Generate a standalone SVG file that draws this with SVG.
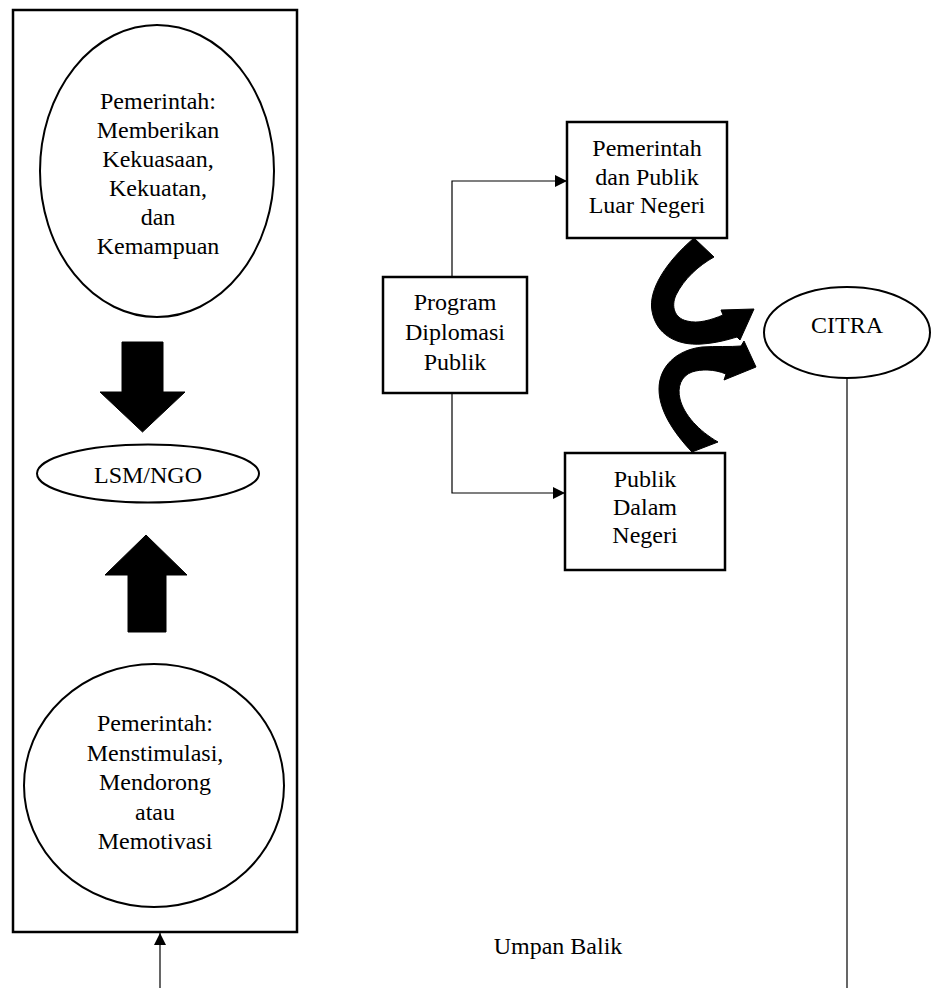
<svg xmlns="http://www.w3.org/2000/svg" width="933" height="988" viewBox="0 0 933 988">
<style>
text{font-family:"Liberation Serif","Times New Roman",serif;font-size:24px;fill:#000;text-anchor:middle}
.box{fill:#fff;stroke:#000;stroke-width:2.5}
.ell{fill:#fff;stroke:#000;stroke-width:2}
.ln{fill:none;stroke:#000;stroke-width:1.2}
.blk{fill:#000;stroke:#000;stroke-width:1}
</style>
<defs>
<marker id="ah" viewBox="0 0 12 12" refX="12" refY="6" markerWidth="12" markerHeight="12" markerUnits="userSpaceOnUse" orient="auto">
<path d="M0,0 L12,6 L0,12 Z" fill="#000"/>
</marker>
</defs>
<g id="outer-box"><rect class="box" x="13" y="10" width="284" height="922"/></g>
<g id="pemerintah-atas">
<ellipse class="ell" cx="157" cy="171" rx="117" ry="146"/>
<text x="158" y="109">Pemerintah:</text>
<text x="158" y="138">Memberikan</text>
<text x="158" y="167">Kekuasaan,</text>
<text x="158" y="196">Kekuatan,</text>
<text x="158" y="225">dan</text>
<text x="158" y="254">Kemampuan</text>
</g>
<g id="arrow-down"><path class="blk" d="M122,342 H163 V392 H185 L142.5,432 L100,392 H122 Z"/></g>
<g id="lsm"><ellipse class="ell" cx="148" cy="473.5" rx="111" ry="29"/><text x="148" y="483">LSM/NGO</text></g>
<g id="arrow-up"><path class="blk" d="M128,632 H166 V575 H187 L146,535 L105,575 H128 Z"/></g>
<g id="pemerintah-bawah">
<ellipse class="ell" cx="154" cy="785.5" rx="130" ry="121.5"/>
<text x="155" y="731">Pemerintah:</text>
<text x="155" y="760.5">Menstimulasi,</text>
<text x="155" y="790">Mendorong</text>
<text x="155" y="819.5">atau</text>
<text x="155" y="849">Memotivasi</text>
</g>
<g id="program"><rect class="box" x="383" y="277" width="144" height="116"/>
<text x="455" y="310">Program</text><text x="455" y="340">Diplomasi</text><text x="455" y="370">Publik</text></g>
<g id="luar-negeri"><rect class="box" x="567" y="122" width="160" height="116"/>
<text x="647" y="156">Pemerintah</text><text x="647" y="185">dan Publik</text><text x="647" y="213">Luar Negeri</text></g>
<g id="dalam-negeri"><rect class="box" x="565" y="453" width="160" height="117"/>
<text x="645" y="487">Publik</text><text x="645" y="515">Dalam</text><text x="645" y="543">Negeri</text></g>
<g id="citra"><ellipse class="ell" cx="847" cy="332.5" rx="83" ry="45.5"/><text x="847" y="333">CITRA</text></g>
<g id="umpan-balik"><text x="558" y="954">Umpan Balik</text></g>
<g id="connectors">
<path class="ln" d="M452,277 V181 H567" marker-end="url(#ah)"/>
<path class="ln" d="M452,393 V493 H565" marker-end="url(#ah)"/>
<path class="ln" d="M847,378 V988"/>
<path class="ln" d="M160,988 V933" marker-end="url(#ah)"/>
<path class="blk" d="M694,238 C666,262 648,290 652,311 C656,334 676,346 702,344 C716,343 727,340 737,337 L740,340 L754,309 L721,310 L723,315 C711,320 698,324 687,321 C674,318 671,306 676,295 C684,279 698,266 714,257 Z"/>
<path class="blk" d="M692,452 C673,432 659,410 659,389 C659,367 676,350 702,347 C716,346 730,347 741,346 L744,341 L756,367 L724,380 L726,374 C714,369 701,369 692,372 C681,376 677,387 680,399 C684,415 699,431 718,442 Z"/>
</g>
</svg>
